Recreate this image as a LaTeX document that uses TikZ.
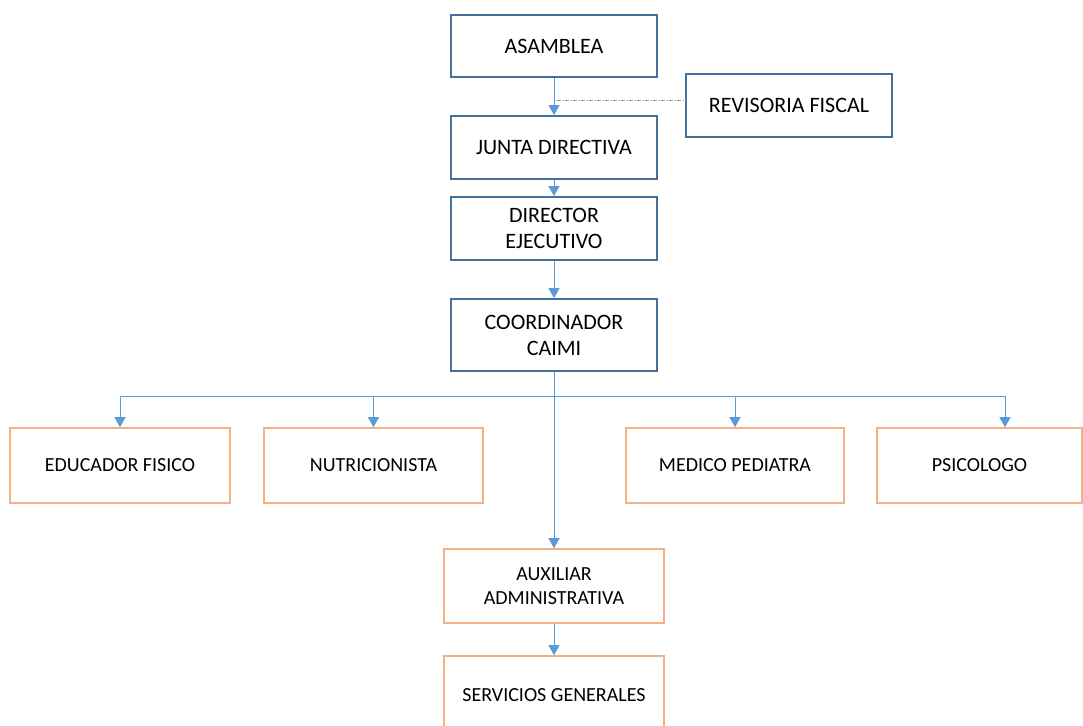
\documentclass[tikz,border=0pt]{standalone}
\usepackage{fontspec}
\setmainfont{Carlito}
\usetikzlibrary{arrows.meta}
\definecolor{bluebd}{HTML}{41719C}
\definecolor{orangebd}{HTML}{F4B183}
\definecolor{arrowc}{HTML}{5B9BD5}
\tikzset{
  bbox/.style={draw=bluebd, line width=1.8pt, minimum width=206pt, inner sep=2pt, align=center, font=\fontsize{22}{26}\selectfont},
  obox/.style={draw=orangebd, line width=1.6pt, inner sep=2pt, align=center, font=\fontsize{20}{24}\selectfont},
  arr/.style={draw=arrowc, line width=1pt, -{Triangle[length=10pt,width=11pt]}},
  plainln/.style={draw=arrowc, line width=1pt},
  dashln/.style={draw=gray!80, line width=0.8pt, dash pattern=on 4pt off 1.5pt on 1pt off 1.5pt}
}
\begin{document}
\begin{tikzpicture}[x=1pt,y=-1pt]
\useasboundingbox (0,0) rectangle (1083,725);
\node[bbox, minimum height=62pt] (asam) at (554,46) {ASAMBLEA};
\node[bbox, minimum height=63pt] (rev) at (789,105.5) {REVISORIA FISCAL};
\node[bbox, minimum height=63pt] (junta) at (554,147.5) {JUNTA DIRECTIVA};
\node[bbox, minimum height=63pt] (dir) at (554,228.5) {DIRECTOR\\EJECUTIVO};
\node[bbox, minimum height=72pt] (coord) at (554,335) {COORDINADOR\\CAIMI};
\node[obox, minimum width=220pt, minimum height=75pt] (edu) at (120,465.5) {EDUCADOR FISICO};
\node[obox, minimum width=219pt, minimum height=75pt] (nut) at (373.5,465.5) {NUTRICIONISTA};
\node[obox, minimum width=218pt, minimum height=75pt] (med) at (735,465.5) {MEDICO PEDIATRA};
\node[obox, minimum width=205pt, minimum height=75pt] (psi) at (979.5,465.5) {PSICOLOGO};
\node[obox, minimum width=220pt, minimum height=74pt] (aux) at (554,586) {AUXILIAR\\ADMINISTRATIVA};
\node[obox, minimum width=220pt, minimum height=78pt] (serv) at (554,695) {SERVICIOS GENERALES};
\coordinate (dj) at (557,100);
\coordinate (bl) at (120,396);
\coordinate (br) at (1005,396);
\draw[arr] (asam) -- (junta);
\draw[dashln] (dj) -- (dj -| rev.west);
\draw[arr] (junta) -- (dir);
\draw[arr] (dir) -- (coord);
\draw[plainln] (bl) -- (br);
\draw[arr] (coord) -- (aux);
\draw[arr] (bl) -- (edu);
\draw[arr] (bl -| nut) -- (nut);
\draw[arr] (bl -| med) -- (med);
\draw[arr] (br) -- (br |- psi.north);
\draw[arr] (aux) -- (serv);
\end{tikzpicture}
\end{document}
